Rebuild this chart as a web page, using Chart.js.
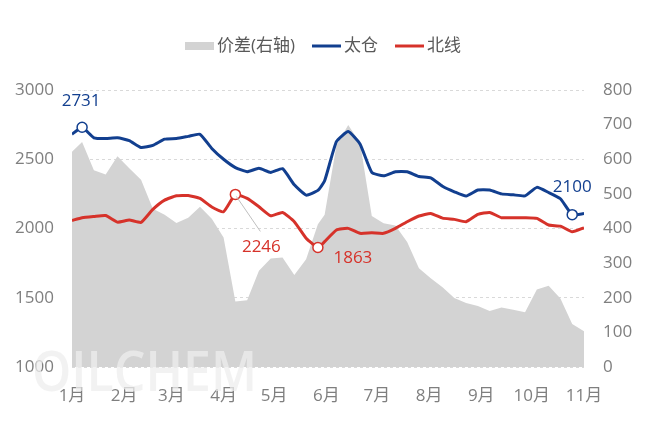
<!DOCTYPE html>
<html><head><meta charset="utf-8">
<script src="https://cdn.jsdelivr.net/npm/chart.js@4"></script>
<style>html,body{margin:0;padding:0;background:#fff;}#wrap{width:646px;height:421px;}</style>
</head><body><div id="wrap"><canvas id="c" width="646" height="421"></canvas></div>
<script>
// ---- data ----
const dates = ['01-01','01-07','01-14','01-21','01-28','02-04','02-11','02-18','02-25','03-04','03-11','03-18','03-25','04-01','04-08','04-15','04-22','04-29','05-06','05-13','05-20','05-27','05-31','06-07','06-14','06-21','06-28','07-05','07-12','07-19','07-26','08-02','08-09','08-16','08-23','08-30','09-06','09-13','09-20','09-27','10-04','10-11','10-18','10-25','11-01'];
const taicang = [2680,2731,2655,2650,2655,2635,2585,2600,2645,2650,2665,2680,2578,2500,2440,2410,2435,2405,2432,2315,2241,2275,2345,2627,2700,2610,2405,2380,2410,2410,2375,2365,2305,2265,2234,2278,2278,2250,2243,2236,2297,2260,2215,2100,2108];
const beixian = [2058,2078,2087,2094,2046,2061,2044,2138,2205,2236,2238,2217,2155,2121,2246,2217,2157,2092,2116,2049,1930,1863,1905,1989,2001,1965,1969,1965,2001,2049,2090,2109,2075,2066,2049,2102,2116,2078,2078,2078,2073,2025,2017,1976,2005];
const spread = [622,650,568,556,609,574,541,457,440,416,431,463,428,374,189,193,278,313,316,266,311,412,440,640,699,648,436,415,409,361,285,256,230,199,185,176,162,172,165,158,224,235,198,124,103];
const monthStarts = ['01-01','02-01','03-01','04-01','05-01','06-01','07-01','08-01','09-01','10-01','11-01'];
const monthLabels = ['1月','2月','3月','4月','5月','6月','7月','8月','9月','10月','11月'];
const seriesNames = ['价差(右轴)','太仓','北线'];
const watermarkText = 'OILCHEM';

// ---- styles ----
const GRAY = '#d3d3d3', BLUE = '#123f8f', RED = '#d6322a';
const FONT = "'Open Sans','Noto Sans CJK SC',sans-serif";
const TICK_COLOR = '#7f7f7f';

function dayOfYear(s){const [m,d]=s.split('-').map(Number);return (Date.UTC(2023,m-1,d)-Date.UTC(2023,0,1))/86400000;}
const xs = dates.map(dayOfYear);
const toPts = arr => arr.map((v,i)=>({x:xs[i],y:v}));

// callouts: dataset index, data index, label offset
const callouts = [
  {ds:1, idx:1,  dx:-1, dy:-26},
  {ds:2, idx:14, dx:26, dy:53, leader:true},
  {ds:2, idx:21, dx:35, dy:11},
  {ds:1, idx:43, dx:0,  dy:-27}
];
const marked = new Set(callouts.map(c=>c.ds+'-'+c.idx));
const ptRadius = ctx => marked.has(ctx.datasetIndex+'-'+ctx.dataIndex) ? 5 : 0;

const watermarkPlugin = {
  id:'wm',
  afterDatasetsDraw(chart){
    const ctx = chart.ctx;
    ctx.save();
    ctx.font = "600 56px 'Open Sans', sans-serif";
    const w = ctx.measureText(watermarkText).width;
    ctx.translate(32, 391);
    ctx.scale(225 / w, 1);
    ctx.fillStyle = 'rgba(238,238,238,0.75)';
    ctx.textBaseline = 'alphabetic';
    ctx.fillText(watermarkText, 0, 0);
    ctx.restore();
  }
};

const calloutPlugin = {
  id:'callouts',
  afterDatasetsDraw(chart){
    const ctx = chart.ctx;
    callouts.forEach(c=>{
      const ds = chart.data.datasets[c.ds];
      const el = chart.getDatasetMeta(c.ds).data[c.idx];
      const val = ds.data[c.idx].y;
      ctx.save();
      if (c.leader){
        ctx.strokeStyle = '#bfbfbf'; ctx.lineWidth = 1;
        ctx.beginPath(); ctx.moveTo(el.x+1, el.y+2); ctx.lineTo(el.x+c.dx-1, el.y+c.dy-16); ctx.stroke();
      }
      ctx.font = '17px ' + FONT;
      ctx.fillStyle = ds.borderColor;
      ctx.textAlign = 'center'; ctx.textBaseline = 'middle';
      ctx.fillText(String(val), el.x + c.dx, el.y + c.dy);
      ctx.restore();
    });
  }
};

const legendPlugin = {
  id:'customLegend',
  afterDraw(chart){
    const ctx = chart.ctx;
    const items = [
      {label:seriesNames[0], kind:'rect', color:GRAY},
      {label:seriesNames[1], kind:'line', color:BLUE},
      {label:seriesNames[2], kind:'line', color:RED}
    ];
    ctx.save();
    ctx.font = '17px ' + FONT;
    const symW = 29, gap = 3, itemGap = 17, cy = 46;
    const widths = items.map(it=>symW+gap+ctx.measureText(it.label).width);
    const total = widths.reduce((a,b)=>a+b,0) + itemGap*(items.length-1);
    let x = (chart.width - total)/2;
    items.forEach((it,i)=>{
      if (it.kind==='rect'){ ctx.fillStyle = it.color; ctx.fillRect(x, cy-4, symW, 8); }
      else { ctx.strokeStyle = it.color; ctx.lineWidth = 3; ctx.beginPath(); ctx.moveTo(x, cy); ctx.lineTo(x+symW, cy); ctx.stroke(); }
      ctx.fillStyle = '#595959'; ctx.textAlign='left'; ctx.textBaseline='middle';
      ctx.fillText(it.label, x+symW+gap, cy);
      x += widths[i] + itemGap;
    });
    ctx.restore();
  }
};

const plainTick = v => String(v);

new Chart(document.getElementById('c'), {
  type:'line',
  data:{
    datasets:[
      {label:seriesNames[0], data:toPts(spread), yAxisID:'y1', fill:'origin', backgroundColor:GRAY, borderColor:'rgba(0,0,0,0)', borderWidth:0, pointRadius:0, tension:0, order:3},
      {label:seriesNames[1], data:toPts(taicang), yAxisID:'y', borderColor:BLUE, borderWidth:3, tension:0.15, fill:false,
        pointRadius:ptRadius, pointBackgroundColor:'#fff', pointBorderColor:BLUE, pointBorderWidth:1.5, borderJoinStyle:'round', order:1},
      {label:seriesNames[2], data:toPts(beixian), yAxisID:'y', borderColor:RED, borderWidth:3, tension:0.15, fill:false,
        pointRadius:ptRadius, pointBackgroundColor:'#fff', pointBorderColor:RED, pointBorderWidth:1.5, borderJoinStyle:'round', order:2}
    ]
  },
  options:{
    responsive:false, animation:false, events:[],
    layout:{padding:{top:90,left:0,right:0,bottom:0}},
    plugins:{legend:{display:false}, tooltip:{enabled:false}},
    scales:{
      x:{type:'linear', min:dayOfYear(monthStarts[0]), max:dayOfYear(monthStarts[monthStarts.length-1]),
        afterBuildTicks:s=>{s.ticks = monthStarts.map(m=>({value:dayOfYear(m)}));},
        ticks:{callback:(v,i)=>monthLabels[i], autoSkip:false, maxRotation:0, padding:19, color:TICK_COLOR, font:{size:17, family:FONT}},
        grid:{display:false, drawTicks:false}, border:{display:false},
        afterFit:s=>{s.height=54;}},
      y:{position:'left', min:1000, max:3000,
        ticks:{stepSize:500, padding:18, color:TICK_COLOR, font:{size:17, family:FONT}, callback:plainTick},
        grid:{color:'#d9d9d9', lineWidth:1, drawTicks:false}, border:{display:false, dash:[3,3]},
        afterFit:s=>{s.width=72;}},
      y1:{position:'right', min:0, max:800,
        ticks:{stepSize:100, padding:19, color:TICK_COLOR, font:{size:17, family:FONT}, callback:plainTick},
        grid:{display:false, drawTicks:false}, border:{display:false},
        afterFit:s=>{s.width=62;}}
    }
  },
  plugins:[watermarkPlugin, calloutPlugin, legendPlugin]
});
</script>
</body></html>
